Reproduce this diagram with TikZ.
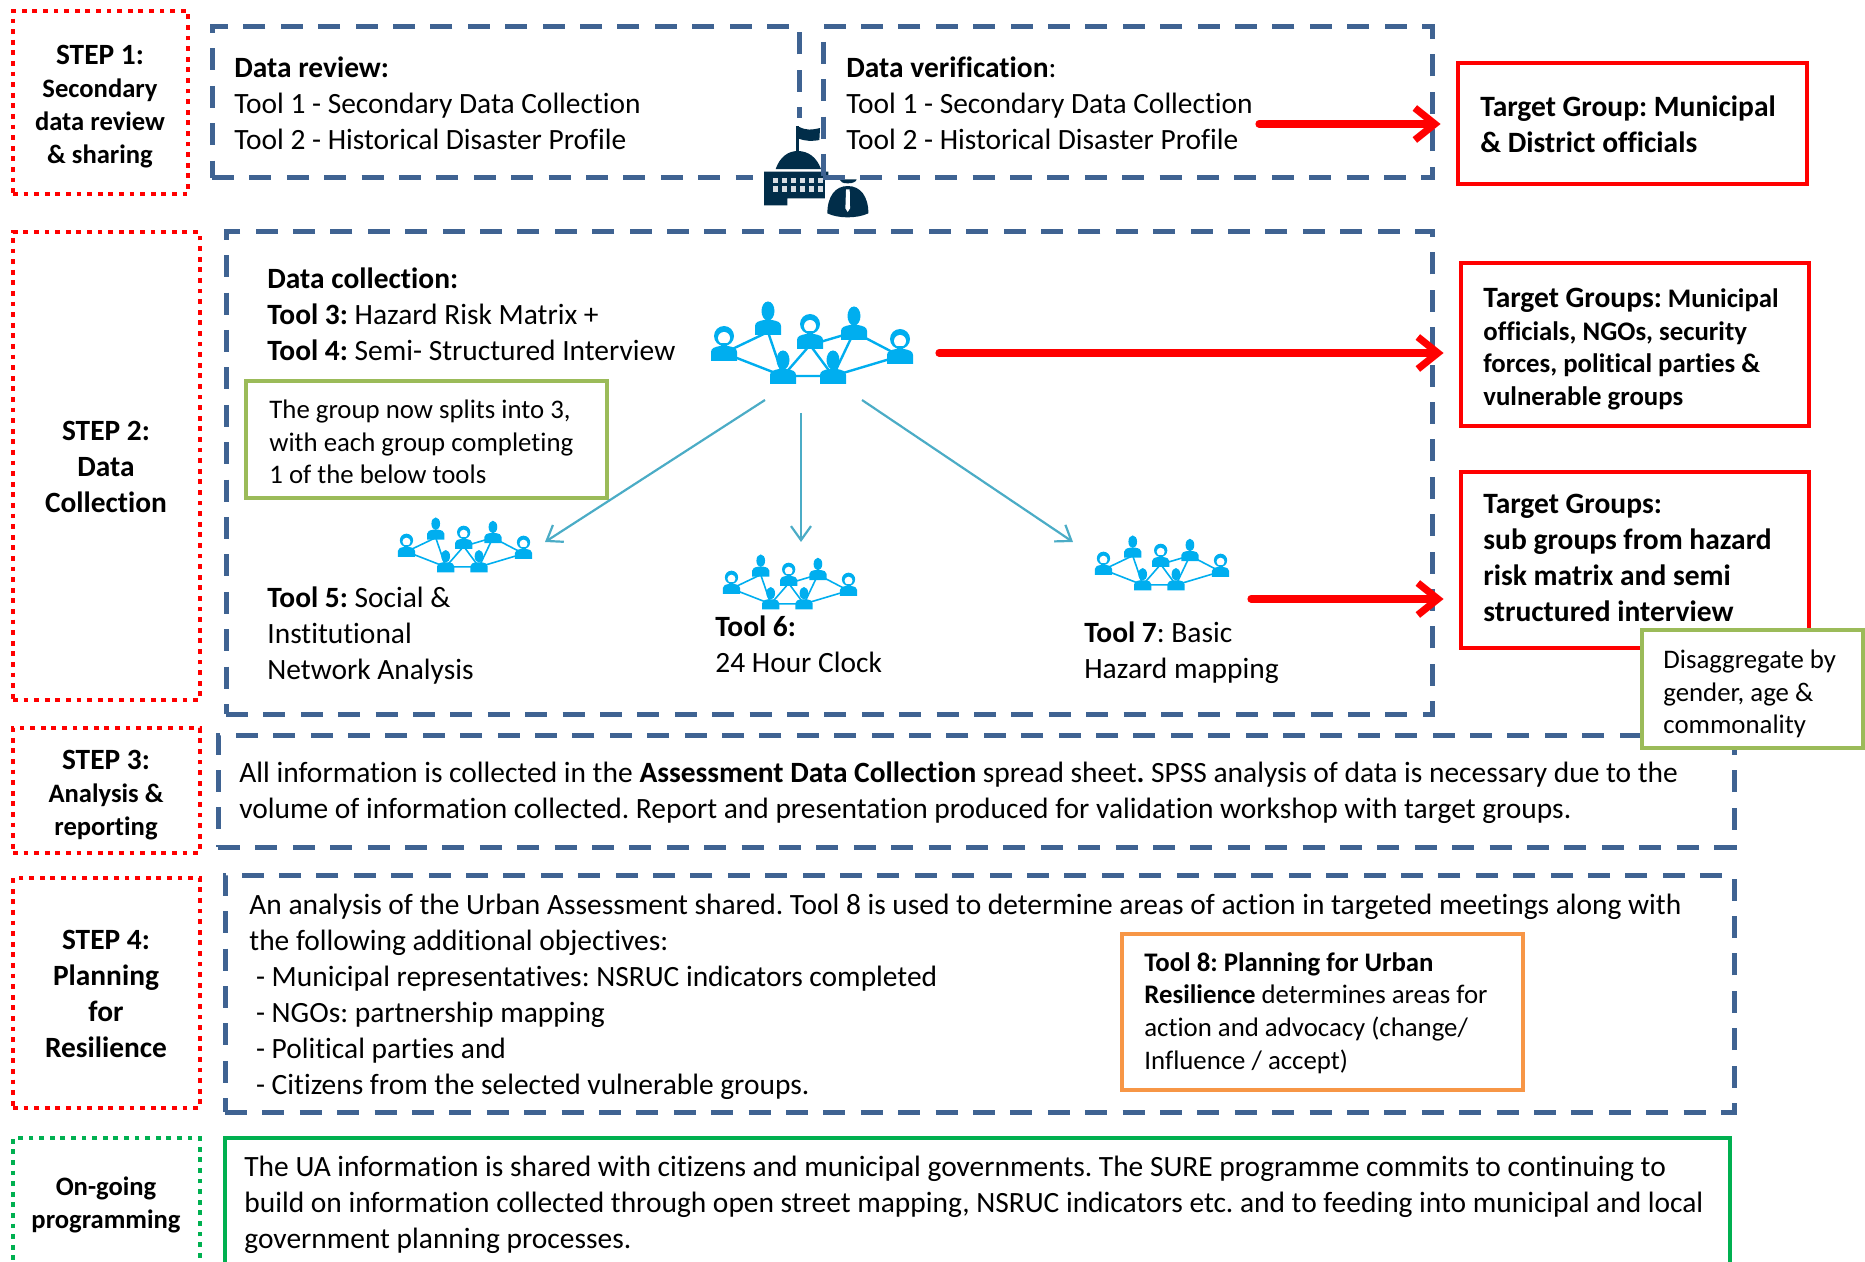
\documentclass[tikz,border=0pt]{standalone}
\usepackage{fontspec}
\setmainfont[Ligatures=CommonOff]{Carlito}
\frenchspacing
\usetikzlibrary{arrows.meta,fit}

\definecolor{dashblue}{HTML}{3F6392}
\definecolor{netblue}{HTML}{00AEEF}
\definecolor{arrowteal}{HTML}{4BACC6}
\definecolor{notegreen}{HTML}{9BBB59}
\definecolor{notegold}{HTML}{F79646}
\definecolor{sharegreen}{HTML}{00B050}
\definecolor{icondark}{HTML}{012D49}

\newcommand{\stepfont}{\fontsize{14.7}{16.5}\selectfont}
\tikzset{
  framed/.style={inner sep=0pt, align=left},
  stepbox/.style={framed, draw=red, line width=2.4pt, dash pattern=on 2.4pt off 2.9pt},
  steptxt/.style={align=center, inner sep=0pt, font=\fontsize{13.3}{16.5}\selectfont\bfseries},
  bigtxt/.style={steptxt, font=\fontsize{14.7}{18}\selectfont\bfseries},
  dashbox/.style={framed, draw=dashblue, line width=2.5pt, dash pattern=on 11pt off 7.7pt},
  targetbox/.style={framed, draw=red, line width=2.4pt, fill=white},
  notebox/.style={framed, draw=notegreen, line width=2.4pt, fill=white},
  txt/.style={anchor=west, align=left, inner sep=0pt, font=\fontsize{14.72}{18}\selectfont},
  smalltxt/.style={txt, font=\fontsize{13.4}{16.3}\selectfont},
  targettxt/.style={txt, font=\fontsize{14.75}{18}\selectfont\bfseries},
  redarrow/.style={draw=red, line width=3.6pt, line cap=round, -{Straight Barb[length=10pt,width=16pt,line width=3.6pt]}, shorten >=7.5pt},
  tealarrow/.style={draw=arrowteal, line width=1.1pt, -{Straight Barb[length=7pt,width=10pt]}},
  shoulders/.pic={
    \fill[netblue] (-13,8) -- (-13,-1) .. controls (-13,-5) and (-9,-6) .. (-4,-7) -- (4,-7) .. controls (9,-6) and (13,-5) .. (13,-1) -- (13,8) -- cycle;
  },
  man/.pic={
    \pic[transform shape] {shoulders};
    \fill[netblue] (0,-16) ellipse (6.5 and 9.5);
  },
  woman/.pic={
    \pic[transform shape] {shoulders};
    \fill[netblue] (0,-17) circle (10);
    \fill[white] (0,-15) circle (6);
    \fill[netblue] (-3,-10) rectangle (3,-6);
  },
  network/.pic={
    \begin{scope}[scale=#1]
      \draw[netblue, line width=#1*1.2pt]
        (-88,10) -- (-44,-11) -- (-29,33) -- (-88,10)
        (-29,33) -- (-2,2) -- (21,33) -- (42,-11) -- (-2,2)
        (42,-11) -- (88,13) -- (21,33) -- (-29,33);
      \foreach \px/\py in {-44/-16, 42/-11, -29/33, 21/33} \pic[transform shape] at (\px,\py) {man};
      \foreach \px/\py in {-88/10, -2/-2, 88/13} \pic[transform shape] at (\px,\py) {woman};
    \end{scope}
  },
}

\begin{document}
\begin{tikzpicture}[x=0.5pt, y=-0.5pt]
  \clip (0,0) rectangle (1865,1262);

  % step column
  \node (step1) [stepbox, fit={(13,11) (188,194)}] {};
  \node (step2) [stepbox, fit={(13,232) (200,700)}] {};
  \node (step3) [stepbox, fit={(13,728) (200,853)}] {};
  \node (step4) [stepbox, fit={(13,878) (200,1108)}] {};
  \node (step5) [stepbox, draw=sharegreen, fit={(13,1138) (200,1272)}] {};
  \node (step1txt) [steptxt] at (100,107) {{\stepfont STEP 1:}\\Secondary\\data review\\\& sharing};
  \node (step2txt) [bigtxt] at (106,467) {STEP 2:\\Data\\Collection};
  \node (step3txt) [steptxt] at (106,795) {{\stepfont STEP 3:}\\Analysis \&\\reporting};
  \node (step4txt) [bigtxt] at (106,994) {STEP 4:\\Planning\\for\\Resilience};
  \node (step5txt) [steptxt] at (106,1205) {On-going\\programming};

  % dashed frames
  \node (review) [dashbox, fit={(212,27) (799,178)}] {};
  \node (collect) [dashbox, fit={(226,232) (1432,714)}] {};
  \node (analyse) [dashbox, fit={(218,735) (1734,847)}] {};
  \node (plan) [dashbox, fit={(225,875) (1734,1112)}] {};
  \node (share) [framed, draw=sharegreen, line width=2.4pt, fit={(225,1138) (1730,1272)}] {};

  % government icon
  \begin{scope}[shift={(680,100)}, x=0.1667pt, y=-0.1667pt]
    \fill[white] (218,55) rectangle (590,375);
    \fill[icondark] (349,78) rectangle (356,160);
    \fill[icondark] (356,80) .. controls (380,92) and (395,90) .. (420,84) -- (418,120) .. controls (395,124) and (380,124) .. (356,116) -- cycle;
    \fill[icondark] (287,207) .. controls (300,170) and (325,153) .. (353,153) .. controls (385,153) and (410,172) .. (423,207) -- cycle;
    \fill[icondark] (252,215) -- (445,215) -- (445,295) -- (322,295) -- (322,316) -- (252,316) -- cycle;
    \foreach \wx in {287,314,341,368,395,422}
      \foreach \wy in {241,267}
        \fill[white!85!icondark] (\wx-8,\wy-8) rectangle (\wx+8,\wy+8);
    \fill[white] (436,225) rectangle (572,356);
    \fill[icondark] (478,238) -- (530,238) .. controls (528,245) and (520,250) .. (503,250) .. controls (488,250) and (480,245) .. (478,238) -- cycle;
    \fill[icondark] (442,340) .. controls (442,290) and (465,258) .. (503,258) .. controls (542,258) and (565,290) .. (565,340) .. controls (530,356) and (475,356) .. (442,340) -- cycle;
    \fill[white] (498,268) -- (509,268) -- (510,325) -- (503,336) -- (496,325) -- cycle;
  \end{scope}
  \node (verify) [dashbox, fit={(823,27) (1432,178)}] {};

  % frame texts
  \node (reviewtxt) [txt] at (234,103) {\textbf{Data review:}\\Tool 1 - Secondary Data Collection\\Tool 2 - Historical Disaster Profile};
  \node (verifytxt) [txt] at (846,103) {\textbf{Data verification}:\\Tool 1 - Secondary Data Collection\\Tool 2 - Historical Disaster Profile};
  \node (collecttxt) [txt] at (267,314) {\textbf{Data collection:}\\\textbf{Tool 3:} Hazard Risk Matrix +\\\textbf{Tool 4:} Semi- Structured Interview};
  \node (toolfive) [txt] at (267,636) {\textbf{Tool 5:} Social \&\\Institutional\\Network Analysis};
  \node (toolsix) [txt] at (715,644) {\textbf{Tool 6:}\\24 Hour Clock};
  \node (toolseven) [txt] at (1084,653) {\textbf{Tool 7}: Basic\\Hazard mapping};
  \node (analysetxt) [txt] at (239,793) {All information is collected in the \textbf{Assessment Data Collection} spread sheet\textbf{.} SPSS analysis of data is necessary due to the\\volume of information collected. Report and presentation produced for validation workshop with target groups.};
  \node (plantxt) [txt] at (249,997) {An analysis of the Urban Assessment shared. Tool 8 is used to determine areas of action in targeted meetings along with\\the following additional objectives:\\\ - Municipal representatives: NSRUC indicators completed\\\ - NGOs: partnership mapping\\\ - Political parties and\\\ - Citizens from the selected vulnerable groups.};
  \node (sharetxt) [txt] at (244,1205) {The UA information is shared with citizens and municipal governments. The SURE programme commits to continuing to\\build on information collected through open street mapping, NSRUC indicators etc. and to feeding into municipal and local\\government planning processes.};

  % target groups
  \node (target1) [targetbox, fit={(1458,63) (1807,184)}] {};
  \node (target2) [targetbox, fit={(1461,263) (1809,426)}] {};
  \node (target3) [targetbox, fit={(1461,472) (1809,648)}] {};
  \node (target1txt) [targettxt] at (1480,124) {Target Group: Municipal\\\& District officials};
  \node (target2txt) [smalltxt, font=\fontsize{13.4}{16.3}\selectfont\bfseries] at (1483,349) {{\fontsize{14.75}{16.3}\selectfont Target Groups:} Municipal\\officials, NGOs, security\\forces, political parties \&\\vulnerable groups};
  \node (target3txt) [targettxt] at (1483,558) {Target Groups:\\sub groups from hazard\\risk matrix and semi\\structured interview};

  % coloured notes
  \node (splitnote) [notebox, fit={(246,381) (607,498)}] {};
  \node (splittxt) [smalltxt] at (269,442) {The group now splits into 3,\\with each group completing\\1 of the below tools};
  \node (disnote) [notebox, fit={(1642,630) (1863,748)}] {};
  \node (distxt) [smalltxt] at (1663,694) {Disaggregate by\\gender, age \&\\commonality};
  \node (toolnote) [notebox, draw=notegold, fit={(1122,934) (1523,1090)}] {};
  \node (tooltxt) [smalltxt] at (1144,1013) {\textbf{Tool 8: Planning for Urban}\\\textbf{Resilience} determines areas for\\action and advocacy (change/\\Influence / accept)};

  % networks
  \pic at (812,343) {network=1};
  \pic at (465,545) {network=0.665};
  \pic at (790,582) {network=0.665};
  \pic at (1162,563) {network=0.665};

  % red arrows
  \coordinate (verifyend) at (1259,124);
  \coordinate (hubend) at (939,353);
  \coordinate (sevenend) at (1251,599);
  \draw[redarrow] (verifyend) -- (verifyend -| target1.west);
  \draw[redarrow] (hubend) -- (hubend -| target2.west);
  \draw[redarrow] (sevenend) -- (sevenend -| target3.west);

  % teal arrows
  \coordinate (hubleft) at (765,400);
  \coordinate (hubmid) at (801,413);
  \coordinate (hubright) at (862,400);
  \coordinate (netfive) at (545,542);
  \coordinate (netsix) at (801,542);
  \coordinate (netseven) at (1073,542);
  \draw[tealarrow] (hubleft) -- (netfive);
  \draw[tealarrow] (hubmid) -- (netsix);
  \draw[tealarrow] (hubright) -- (netseven);
\end{tikzpicture}
\end{document}
